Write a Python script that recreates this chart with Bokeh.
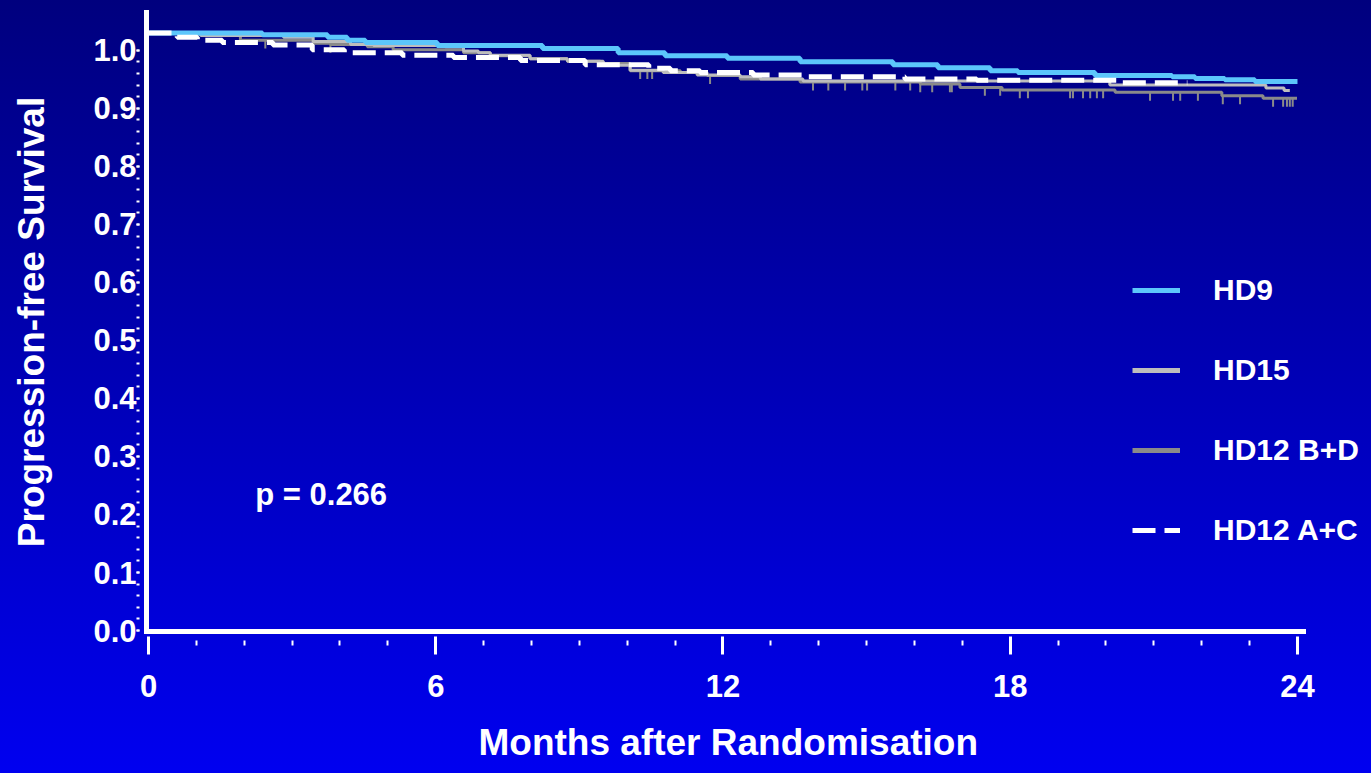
import numpy as np
from bokeh.plotting import figure
from bokeh.models import (Range1d, FixedTicker, NumeralTickFormatter, Legend, LegendItem,
                          Label, Title, GlobalInlineStyleSheet)
from bokeh.embed import file_html
from bokeh.resources import INLINE

# ---------------- data ----------------
X_TICKS = [0, 6, 12, 18, 24]
X_MINOR = list(range(0, 25))
Y_TICKS = [0.0, 0.1, 0.2, 0.3, 0.4, 0.5, 0.6, 0.7, 0.8, 0.9, 1.0]
Y_MINOR = [round(i * 0.02, 2) for i in range(51)]

SERIES = ["HD9", "HD15", "HD12 B+D", "HD12 A+C"]

HD9_T = [0, 2.38, 3.74, 4.15, 4.53, 6.03, 8.23, 9.81, 10.79, 12.09, 13.61, 15.55,
         16.49, 17.58, 18.16, 19.77, 21.38, 21.86, 22.48, 23.11, 24.0]
HD9_S = [1.0, 0.997, 0.993, 0.988, 0.984, 0.979, 0.974, 0.967, 0.962, 0.958, 0.952, 0.947,
         0.942, 0.937, 0.934, 0.929, 0.927, 0.924, 0.922, 0.919, 0.919]

HD15_T = [0, 1.09, 2.82, 3.44, 4.22, 4.7, 6.2, 6.58, 6.89, 7.14, 7.97, 8.75, 9.5, 10.06,
          10.75, 11.46, 12.36, 12.78, 13.67, 20.08, 23.34, 23.72, 23.84]
HD15_S = [1.0, 0.996, 0.993, 0.986, 0.981, 0.979, 0.977, 0.970, 0.967, 0.963, 0.957, 0.953,
          0.946, 0.938, 0.934, 0.930, 0.927, 0.923, 0.920, 0.913, 0.908, 0.904, 0.904]

HD12BD_T = [0, 0.81, 1.92, 3.44, 3.80, 4.57, 5.11, 6.58, 7.14, 7.97, 8.75, 9.44, 10.06,
            11.11, 11.67, 12.36, 13.61, 16.12, 16.95, 17.83, 20.19, 22.42, 23.28, 23.99]
HD12BD_S = [1.0, 0.998, 0.988, 0.983, 0.981, 0.977, 0.972, 0.967, 0.962, 0.957, 0.953, 0.949,
            0.937, 0.934, 0.929, 0.923, 0.918, 0.915, 0.909, 0.905, 0.901, 0.895, 0.891, 0.891]
HD12BD_CENS = [2.44, 3.80, 10.27, 10.42, 10.52, 11.73, 13.88, 14.2, 14.55, 14.91, 15.01, 15.6,
               15.91, 16.12, 16.37, 16.74, 16.78, 17.47, 17.79, 18.2, 18.37, 19.25, 19.31,
               19.52, 19.67, 19.81, 19.94, 20.92, 21.4, 21.55, 21.92, 22.44, 22.8, 23.49,
               23.7, 23.78, 23.84, 23.9]

HD12AC_T = [0, 0.6, 1.02, 1.54, 2.6, 3.42, 4.09, 5.3, 6.37, 7.77, 9.12, 10.45, 10.9, 11.52,
            12.63, 13.72, 15.8, 17.3, 20.3, 21.7]
HD12AC_S = [1.0, 0.993, 0.988, 0.984, 0.980, 0.972, 0.967, 0.963, 0.959, 0.954, 0.947, 0.941,
            0.937, 0.934, 0.930, 0.927, 0.923, 0.921, 0.917, 0.917]

P_TEXT = "p = 0.266"
X_TITLE = "Months after Randomisation"
Y_TITLE = "Progression-free Survival"

# ---------------- styles ----------------
FONT = "Liberation Sans"
C_HD9 = "#5cc6fb"
C_HD15 = "#bdbdbd"
C_BD = "#8a8a8a"
C_AC = "#ffffff"
TICK_LEN = 0.014
X_START = -0.0418

css = GlobalInlineStyleSheet(css="""
html { min-height: 100%; background: linear-gradient(to bottom, #00007e 0%, #0000f0 100%) fixed; }
body { background: transparent; }
""")

p = figure(width=1371, height=773, output_backend="svg", toolbar_location=None,
           x_range=Range1d(X_START, 25.546), y_range=Range1d(-0.0017, 1.0653),
           min_border_left=146, min_border_right=0, min_border_top=12, min_border_bottom=142,
           background_fill_color=None, border_fill_color=None, outline_line_color=None)
p.stylesheets = [css]
p.extra_y_ranges = {"surv": Range1d(0.0, 1.0343)}
p.grid.visible = False

# x axis
xa = p.xaxis[0]
xa.bounds = (X_START, 24.136)
xa.ticker = FixedTicker(ticks=X_TICKS, minor_ticks=X_MINOR)
xa.axis_line_color = "white"
xa.axis_line_width = 5
xa.axis_line_cap = "square"
xa.major_tick_line_color = "white"
xa.major_tick_line_width = 3
xa.major_tick_in = 0
xa.major_tick_out = 23
xa.major_tick_line_dash = "18 40"
xa.minor_tick_line_color = "white"
xa.minor_tick_line_width = 2
xa.minor_tick_in = 0
xa.minor_tick_out = 14
xa.minor_tick_line_dash = "5 40"
xa.major_label_text_color = "white"
xa.major_label_text_font = FONT
xa.major_label_text_font_style = "bold"
xa.major_label_text_font_size = "31px"
xa.major_label_standoff = 20
# blank spacer label: pushes the title below a little further down
xa.axis_label = " "
xa.axis_label_text_font_size = "8px"
xa.axis_label_standoff = 10

# x title, centred under the axis line (not under the whole frame)
p.add_layout(Title(text=X_TITLE, align="left", offset=332, standoff=0, vertical_align="top",
                   text_color="white", text_font=FONT, text_font_style="bold",
                   text_font_size="37px"), "below")

# y axis
ya = p.yaxis[0]
ya.ticker = FixedTicker(ticks=Y_TICKS, minor_ticks=Y_MINOR)
ya.formatter = NumeralTickFormatter(format="0.0")
ya.axis_line_color = "white"
ya.axis_line_width = 5
ya.axis_line_cap = "square"
ya.major_tick_line_color = "white"
ya.major_tick_line_width = 2
ya.major_tick_in = 0
ya.major_tick_out = 10
ya.major_tick_line_dash = "3 40"
ya.minor_tick_line_color = "white"
ya.minor_tick_line_width = 2
ya.minor_tick_in = 0
ya.minor_tick_out = 10
ya.minor_tick_line_dash = "3 40"
ya.major_label_text_color = "white"
ya.major_label_text_font = FONT
ya.major_label_text_font_style = "bold"
ya.major_label_text_font_size = "31px"
ya.major_label_standoff = 0
ya.axis_label = Y_TITLE
ya.axis_label_text_color = "white"
ya.axis_label_text_font = FONT
ya.axis_label_text_font_style = "bold"
ya.axis_label_text_font_size = "37px"
ya.axis_label_standoff = 38

# curves
r_bd = p.step(HD12BD_T, HD12BD_S, mode="after", y_range_name="surv",
              line_color=C_BD, line_width=3)
bd_t = np.array(HD12BD_T)
bd_s = np.array(HD12BD_S)
cens = np.array(HD12BD_CENS)
cy = bd_s[np.searchsorted(bd_t, cens, side="right") - 1]
p.segment(x0=cens, y0=cy, x1=cens, y1=cy - TICK_LEN, y_range_name="surv",
          line_color=C_BD, line_width=2)
r_15 = p.step(HD15_T, HD15_S, mode="after", y_range_name="surv",
              line_color=C_HD15, line_width=3)
r_9 = p.step(HD9_T, HD9_S, mode="after", y_range_name="surv",
             line_color=C_HD9, line_width=5)
r_ac = p.step(HD12AC_T, HD12AC_S, mode="after", y_range_name="surv",
              line_color=C_AC, line_width=5, line_dash="23 9")

# legend keys for the grey curves are drawn thicker than the curves themselves
lg_15 = p.step(HD15_T, HD15_S, mode="after", y_range_name="surv",
               line_color=C_HD15, line_width=5, visible=False)
lg_bd = p.step(HD12BD_T, HD12BD_S, mode="after", y_range_name="surv",
               line_color=C_BD, line_width=5, visible=False)

legend = Legend(items=[LegendItem(label=SERIES[0], renderers=[r_9]),
                       LegendItem(label=SERIES[1], renderers=[lg_15]),
                       LegendItem(label=SERIES[2], renderers=[lg_bd]),
                       LegendItem(label=SERIES[3], renderers=[r_ac])],
                location=(986, 83), orientation="vertical", padding=0, margin=0,
                spacing=44, glyph_width=48, glyph_height=36, label_height=36,
                label_standoff=33, label_text_font=FONT, label_text_font_style="bold",
                label_text_font_size="30px", label_text_color="white",
                label_text_baseline="middle", inactive_fill_alpha=0,
                background_fill_alpha=0, border_line_color=None)
p.add_layout(legend)

p.add_layout(Label(x=2.23, y=0.235, text=P_TEXT, text_align="left",
                   text_baseline="alphabetic", text_color="white", text_font=FONT,
                   text_font_style="bold", text_font_size="31px"))

open("out.html", "w").write(file_html(p, INLINE))
